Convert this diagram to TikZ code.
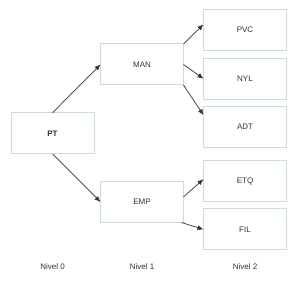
\documentclass[tikz,border=0pt]{standalone}
\usepackage{fontspec}
\setmainfont{Liberation Sans}
\usetikzlibrary{arrows.meta}
\definecolor{boxline}{RGB}{196,224,216}
\definecolor{txt}{RGB}{51,51,51}
\tikzset{
  nodebox/.style={draw=boxline,line width=1pt,minimum width=83pt,minimum height=41pt,inner sep=0pt,outer sep=0pt,text=txt,font=\fontsize{8}{10}\selectfont},
  link/.style={-{Latex[length=6pt,width=5pt]},draw=txt,line width=0.7pt},
  lvl/.style={text=txt,font=\fontsize{8}{10}\selectfont}
}
\begin{document}
\begin{tikzpicture}[x=1pt,y=1pt]
  \useasboundingbox (0,0) rectangle (300,284);
  \node[nodebox,font=\fontsize{8}{10}\selectfont\bfseries] (pt) at (52.5,150.7) {PT};
  \node[nodebox] (man) at (142,219.5) {MAN}; \node[nodebox] (emp) at (142,82) {EMP};
  \node[nodebox] (pvc) at (245,253.8) {PVC}; \node[nodebox] (nyl) at (245,205.3) {NYL};
  \node[nodebox] (adt) at (245,157) {ADT}; \node[nodebox] (etq) at (245,102.7) {ETQ};
  \node[nodebox] (fil) at (245,54.5) {FIL};
  \draw[link] (pt.north)--(man.west); \draw[link] (pt.south)--(emp.west);
  \draw[link] (man.north east)--(pvc.172); \draw[link] (man.east)--(nyl.west);
  \draw[link] (man.south east)--(adt.164);
  \draw[link] (emp.7)--(etq.177); \draw[link] ([xshift=-2pt]emp.south east)--(fil.west);
  \node[lvl] (n0) at (52.5,17) {Nivel 0}; \node[lvl] (n1) at (142,17) {Nivel 1}; \node[lvl] (n2) at (245,17) {Nivel 2};
\end{tikzpicture}
\end{document}
